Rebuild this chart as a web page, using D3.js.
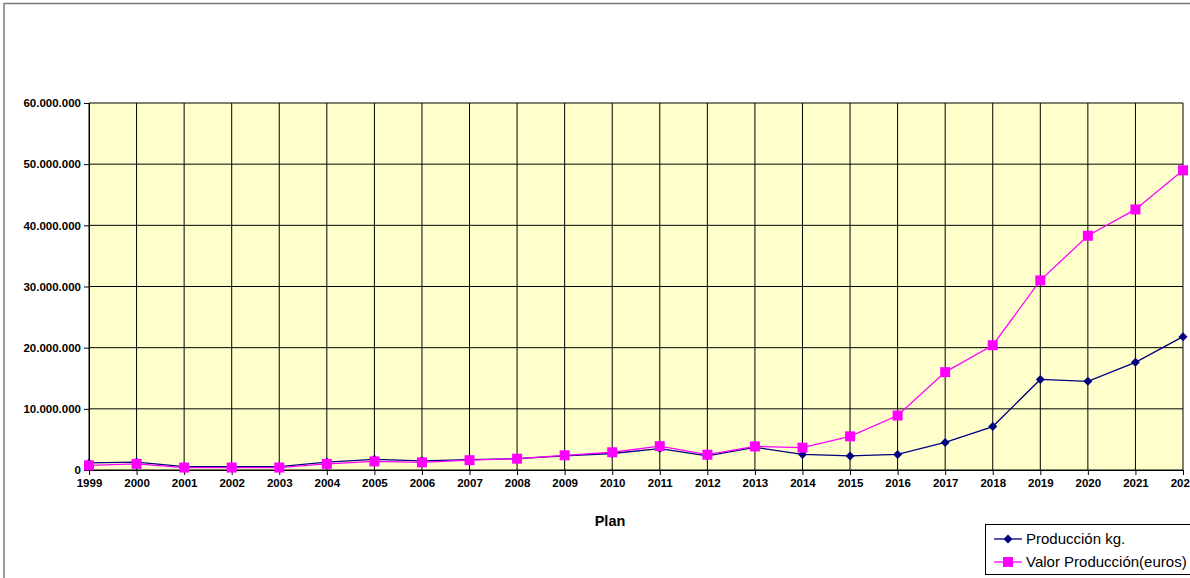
<!DOCTYPE html>
<html>
<head>
<meta charset="utf-8">
<script src="https://cdn.jsdelivr.net/npm/d3@7"></script>
<style>
  html, body { margin: 0; padding: 0; background: #fff; }
  svg { display: block; font-family: "Liberation Sans", Arial, sans-serif; }
</style>
</head>
<body>
<div id="chart"></div>
<script>
// datos
const years = ['1999','2000','2001','2002','2003','2004','2005','2006','2007','2008','2009','2010',
               '2011','2012','2013','2014','2015','2016','2017','2018','2019','2020','2021','2022'];
const produccionKg = [1150000, 1300000, 550000, 550000, 550000, 1300000, 1750000, 1500000, 1700000, 1850000,
                      2300000, 2700000, 3500000, 2300000, 3700000, 2550000, 2300000, 2550000, 4500000, 7100000,
                      14800000, 14500000, 17600000, 21800000];
const valorProduccion = [750000, 1000000, 400000, 400000, 400000, 1000000, 1400000, 1250000, 1600000, 1850000,
                         2400000, 2900000, 3900000, 2500000, 3850000, 3650000, 5500000, 8900000, 16000000, 20400000,
                         31000000, 38300000, 42600000, 49000000];
const yTicks = [0, 10000000, 20000000, 30000000, 40000000, 50000000, 60000000];
const seriesNames = ['Producción kg.', 'Valor Producción(euros)'];

const width = 1190, height = 578;
const plot = { left: 89, right: 1183, top: 103, bottom: 470 };

const svg = d3.select('#chart').append('svg')
    .attr('width', width)
    .attr('height', height);

// borde exterior
svg.append('rect')
    .attr('x', 4).attr('y', 3.5)
    .attr('width', width + 10).attr('height', height + 10)
    .attr('fill', 'none')
    .attr('stroke', '#7a7a7a')
    .attr('stroke-width', 1.5);

const x = d3.scalePoint().domain(years).range([plot.left, plot.right]);
const y = d3.scaleLinear().domain([0, 60000000]).range([plot.bottom, plot.top]);

// fondo del área de trazado
svg.append('rect')
    .attr('x', plot.left).attr('y', plot.top)
    .attr('width', plot.right - plot.left).attr('height', plot.bottom - plot.top)
    .attr('fill', '#ffffcc');

// rejilla
const grid = svg.append('g');
grid.selectAll('.hgrid').data(yTicks).enter().append('line')
    .attr('x1', plot.left).attr('x2', plot.right)
    .attr('y1', d => y(d)).attr('y2', d => y(d))
    .attr('stroke', '#000').attr('stroke-width', 1);
grid.selectAll('.vgrid').data(years).enter().append('line')
    .attr('x1', d => x(d)).attr('x2', d => x(d))
    .attr('y1', plot.top).attr('y2', plot.bottom)
    .attr('stroke', '#000').attr('stroke-width', 1);

// eje Y
const fmt = d => d3.format(',')(d).replace(/,/g, '.');
const yAxis = svg.append('g')
    .attr('transform', `translate(${plot.left},0)`)
    .call(d3.axisLeft(y).tickValues(yTicks).tickFormat(fmt).tickSize(5).tickPadding(3));
yAxis.select('.domain').attr('stroke', '#000');
yAxis.selectAll('.tick line').attr('stroke', '#000');
yAxis.selectAll('text')
    .style('font-size', '11.5px').style('font-weight', 'bold').attr('fill', '#000');

// eje X
const xAxis = svg.append('g')
    .attr('transform', `translate(0,${plot.bottom})`)
    .call(d3.axisBottom(x).tickSize(5).tickPadding(4));
xAxis.select('.domain').attr('stroke', '#000');
xAxis.selectAll('.tick line').attr('stroke', '#000');
xAxis.selectAll('text')
    .style('font-size', '11.5px').style('font-weight', 'bold').attr('fill', '#000');

svg.append('text')
    .attr('x', 610).attr('y', 526)
    .attr('text-anchor', 'middle')
    .style('font-size', '14.5px').style('font-weight', 'bold')
    .text('Plan');

// series
const line = d3.line().x((d, i) => x(years[i])).y(d => y(d));
const diamondPath = 'M0,-4.5L4.5,0L0,4.5L-4.5,0Z';

svg.append('path').datum(produccionKg)
    .attr('d', line).attr('fill', 'none')
    .attr('stroke', '#000080').attr('stroke-width', 1.3);
svg.append('path').datum(valorProduccion)
    .attr('d', line).attr('fill', 'none')
    .attr('stroke', '#ff00ff').attr('stroke-width', 1.3);

svg.append('g').selectAll('path').data(produccionKg).enter().append('path')
    .attr('d', diamondPath)
    .attr('transform', (d, i) => `translate(${x(years[i])},${y(d)})`)
    .attr('fill', '#000080');

svg.append('g').selectAll('rect').data(valorProduccion).enter().append('rect')
    .attr('x', (d, i) => x(years[i]) - 5)
    .attr('y', d => y(d) - 5)
    .attr('width', 10).attr('height', 10)
    .attr('fill', '#ff00ff');

// leyenda
const legend = svg.append('g');
legend.append('rect')
    .attr('x', 985.5).attr('y', 524.5)
    .attr('width', 220).attr('height', 50)
    .attr('fill', '#fff').attr('stroke', '#000').attr('stroke-width', 1);

const legendRows = [
    { name: seriesNames[0], color: '#000080', mark: 'diamond', y: 539 },
    { name: seriesNames[1], color: '#ff00ff', mark: 'square', y: 562 }
];
legendRows.forEach(r => {
    legend.append('line')
        .attr('x1', 994).attr('x2', 1022)
        .attr('y1', r.y).attr('y2', r.y)
        .attr('stroke', r.color).attr('stroke-width', 1.3);
    if (r.mark === 'diamond') {
        legend.append('path')
            .attr('d', diamondPath)
            .attr('transform', `translate(1008,${r.y})`)
            .attr('fill', r.color);
    } else {
        legend.append('rect')
            .attr('x', 1003).attr('y', r.y - 5)
            .attr('width', 10).attr('height', 10)
            .attr('fill', r.color);
    }
    legend.append('text')
        .attr('x', 1026).attr('y', r.y)
        .attr('dy', '0.35em')
        .style('font-size', '15px')
        .text(r.name);
});
</script>
</body>
</html>
